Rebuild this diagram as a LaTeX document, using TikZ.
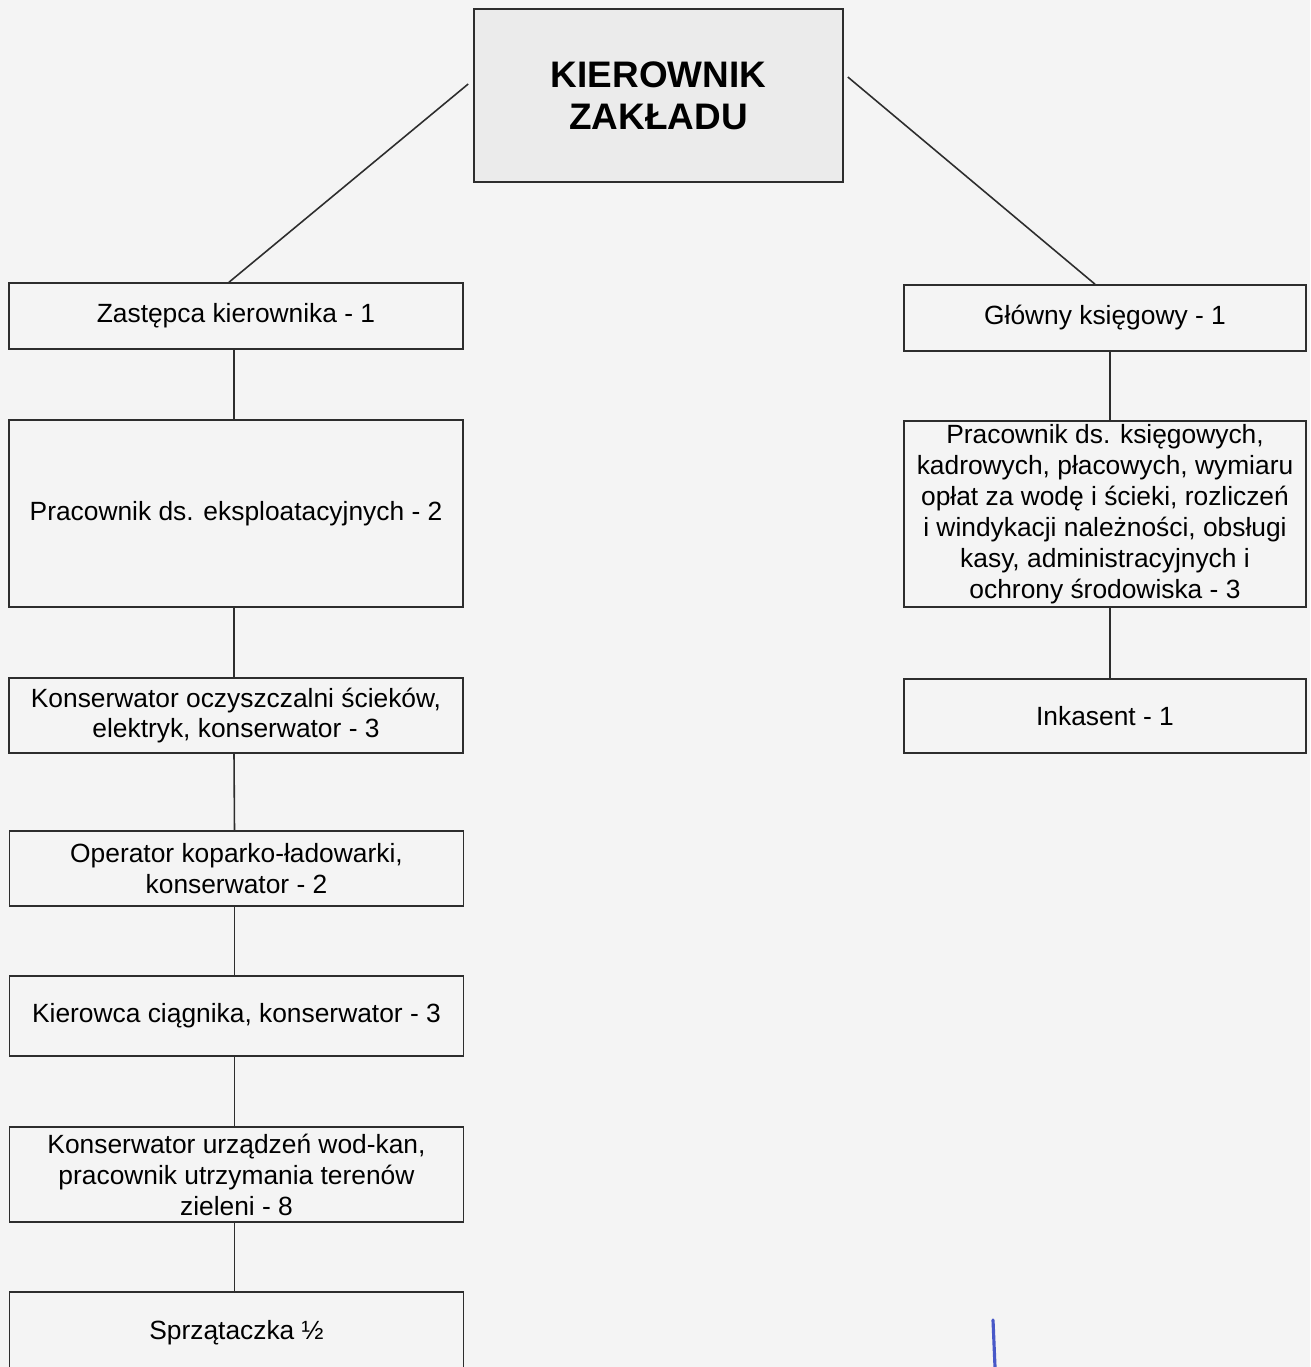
\documentclass[tikz,border=0pt]{standalone}
\usepackage{fontspec}
\setmainfont{Liberation Sans}
\usetikzlibrary{calc}
\definecolor{paper}{RGB}{244,244,244}
\definecolor{bossfill}{RGB}{235,235,235}
\definecolor{frame}{RGB}{45,45,45}
\definecolor{inkblue}{RGB}{72,88,200}
\newcommand\linkbox[3]{% upper, lower, shift

  \draw[link] ([xshift=#3]#1.south) -- ([xshift=#3]#2.north);

}

\begin{document}
\begin{tikzpicture}
		\tikzstyle{every node}=[font=\fontsize{15}{17.6}\selectfont]
		\tikzstyle{link}=[color=frame,line width=0.9pt]
		\tikzstyle{box}=[draw=frame,line width=0.9pt,inner sep=0pt,align=center]
		\tikzstyle{leftbox}=[box,minimum width=9.08cm]
		\tikzstyle{rightbox}=[box,minimum width=8.04cm]
		\tikzstyle{bossbox}=[box,fill=bossfill,minimum width=7.38cm,minimum height=3.46cm,
				      font=\fontsize{21}{24}\selectfont\bfseries]

\fill[paper] (0,0) rectangle (26.2,-27.34);
\useasboundingbox (0,0) rectangle (26.2,-27.34);

\node[bossbox] at (13.17,-1.91) (boss) {KIEROWNIK\\ZAKŁADU};

\node[leftbox,minimum height=1.32cm] at (4.72,-6.32) (zast) {Zastępca kierownika - 1};
\node[leftbox,minimum height=3.74cm] at (4.72,-10.27) (eksp) {Pracownik ds. eksploatacyjnych - 2};
\node[leftbox,minimum height=1.50cm] at (4.72,-14.31) (kons) {Konserwator oczyszczalni ścieków,\\elektryk, konserwator - 3};
\node[leftbox,minimum height=1.50cm] at (4.73,-17.37) (oper) {Operator koparko-ładowarki,\\konserwator - 2};
\node[leftbox,minimum height=1.60cm] at (4.73,-20.32) (kier) {Kierowca ciągnika, konserwator - 3};
\node[leftbox,minimum height=1.90cm] at (4.73,-23.49) (wodkan) {Konserwator urządzeń wod-kan,\\pracownik utrzymania terenów\\zieleni - 8};
\node[leftbox,minimum height=1.64cm] at (4.73,-26.66) (sprz) {Sprzątaczka ½};

\node[rightbox,minimum height=1.32cm] at (22.10,-6.36) (glowny) {Główny księgowy - 1};
\node[rightbox,minimum height=3.72cm] at (22.10,-10.28) (ksieg) {Pracownik ds. księgowych,\\kadrowych, płacowych, wymiaru\\opłat za wodę i ścieki, rozliczeń\\i windykacji należności, obsługi\\kasy, administracyjnych i\\ochrony środowiska - 3};
\node[rightbox,minimum height=1.48cm] at (22.10,-14.32) (inkas) {Inkasent - 1};

% lines from the head of the plant
\draw[link] ($(boss.west)+(-0.1,0.23)$) -- ([xshift=-1.4mm]zast.north);
\draw[link] ($(boss.east)+(0.08,0.37)$) -- ([xshift=-2mm]glowny.north);

\foreach \a/\b in {zast/eksp,eksp/kons,kons/oper,oper/kier,kier/wodkan,wodkan/sprz}
{
  \linkbox{\a}{\b}{-0.4mm}
}
\foreach \a/\b in {glowny/ksieg,ksieg/inkas}
{
  \linkbox{\a}{\b}{1mm}
}

\draw[inkblue,line width=1.8pt,line cap=round] (19.86,-26.40) -- (19.90,-27.34);

\end{tikzpicture}
\end{document}
